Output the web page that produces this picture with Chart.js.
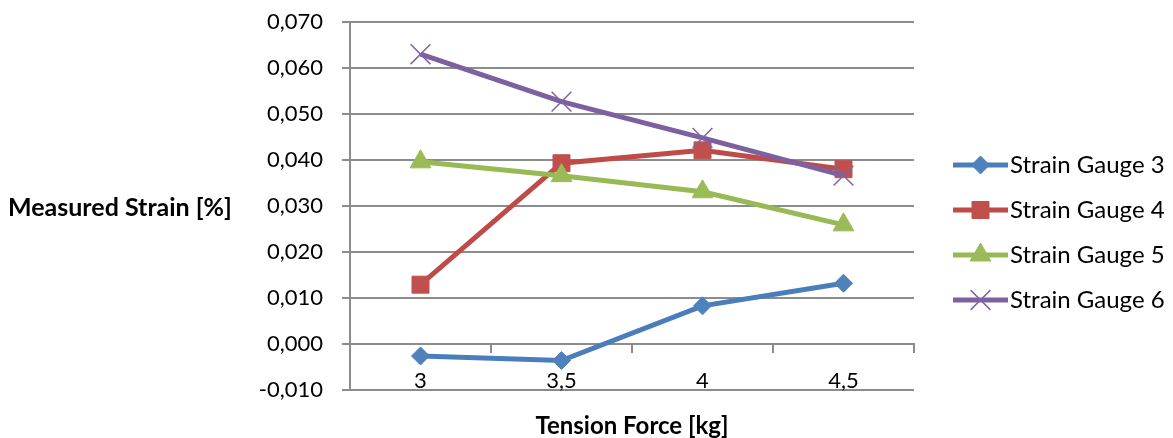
<!DOCTYPE html>
<html>
<head>
<meta charset="utf-8">
<script src="https://cdn.jsdelivr.net/npm/chart.js@4"></script>
<style>
  html, body { margin: 0; padding: 0; background: #fff; }
  #c { display: block; }
</style>
</head>
<body>
<canvas id="c" width="1173" height="438"></canvas>
<script>
// ---- data ----
const categories = ['3', '3,5', '4', '4,5'];
const seriesNames = ['Strain Gauge 3', 'Strain Gauge 4', 'Strain Gauge 5', 'Strain Gauge 6'];
const gauge3 = [-0.0026, -0.0036, 0.0083, 0.0132];
const gauge4 = [0.0129, 0.0393, 0.0421, 0.0380];
const gauge5 = [0.0396, 0.0366, 0.0331, 0.0259];
const gauge6 = [0.0630, 0.0527, 0.0448, 0.0366];
const yMin = -0.01, yMax = 0.07, yStep = 0.01;
const yTitle = 'Measured Strain [%]';
const xTitle = 'Tension Force [kg]';

// ---- styles ----
const FONT = 'Lato';
const gridColor = '#8c8c8c';
const lineColors = ['#4A7EBB', '#BE4B48', '#98B954', '#7D60A0'];
const markColors = ['#4F81BD', '#C0504D', '#9BBB59', '#8064A2'];
const markStyles = ['rectRot', 'rect', 'triangle', 'crossRot'];
const markRadius = [9, 12, 12, 14];
const markBorder = [1, 1, 1, 1.5];
const values = [gauge3, gauge4, gauge5, gauge6];

const W = 1173, H = 438;
const plotLeft = 350, plotRight = 914, plotTop = 22, plotBottom = 390;
const tickFontSize = 22, xTitleFontSize = 24, yTitleFontSize = 25;
const legendFontSize = 24, legendPad = 21, legendBoxW = 63;
const legendFirstY = 165;

// legend icons: line + marker (Excel style)
const x0 = plotRight + legendPad;
const iconCenter = x0 + legendBoxW / 2;
const textX = x0 + legendBoxW + legendFontSize / 2;
const lineEnd = textX - 2, lineStart = lineEnd - 55;
const iconW = Math.ceil(2 * (lineEnd - iconCenter));
const iconLeft = iconCenter - iconW / 2;
function makeIcon(i) {
  const cv = document.createElement('canvas');
  cv.width = iconW; cv.height = 30;
  const c = cv.getContext('2d');
  c.strokeStyle = lineColors[i];
  c.lineWidth = 5;
  c.beginPath(); c.moveTo(lineStart - iconLeft, 15); c.lineTo(lineEnd - iconLeft, 15); c.stroke();
  c.fillStyle = markColors[i];
  c.strokeStyle = markColors[i];
  c.lineWidth = markBorder[i];
  Chart.helpers.drawPoint(c, {pointStyle: markStyles[i], radius: markRadius[i], borderWidth: markBorder[i], rotation: 0},
    (lineStart + lineEnd) / 2 - iconLeft, 15);
  return cv;
}
const icons = seriesNames.map((_, i) => makeIcon(i));

// measure legend text to size right padding so the plot ends at plotRight
const mctx = document.createElement('canvas').getContext('2d');
mctx.font = legendFontSize + 'px ' + FONT;
const tw = Math.max(...seriesNames.map(s => mctx.measureText(s).width));
const padRight = Math.max(0, (W - plotRight) - (legendPad + legendBoxW + legendFontSize / 2 + tw + 10));

function fmt(v) {
  return (Math.round(v * 1000) / 1000).toFixed(3).replace('.', ',');
}

const yTitlePlugin = {
  id: 'yTitle',
  afterDraw(chart) {
    const ctx = chart.ctx;
    ctx.save();
    ctx.font = 'bold ' + yTitleFontSize + 'px ' + FONT;
    ctx.fillStyle = '#000';
    ctx.textAlign = 'left';
    ctx.textBaseline = 'alphabetic';
    ctx.fillText(yTitle, 8, 216);
    ctx.restore();
  }
};

const legendShift = {
  id: 'legendShift',
  afterLayout(chart) {
    const L = chart.legend;
    if (L && L.columnSizes && L.columnSizes.length) {
      const colH = L.columnSizes[0].height;
      const y0 = (L.top + legendPad + L.bottom - colH) / 2;
      const shift = (legendFirstY - legendFontSize / 2) - y0;
      L.top += shift;
      L.bottom += shift;
    }
  }
};

new Chart(document.getElementById('c'), {
  type: 'line',
  data: {
    labels: categories,
    datasets: values.map((vals, i) => ({
      label: seriesNames[i],
      data: vals,
      order: 4 - i,
      borderColor: lineColors[i],
      borderWidth: 5,
      backgroundColor: markColors[i],
      pointStyle: markStyles[i],
      pointRadius: markRadius[i],
      pointHoverRadius: markRadius[i],
      pointBackgroundColor: markColors[i],
      pointBorderColor: markColors[i],
      pointBorderWidth: markBorder[i],
      tension: 0,
      fill: false
    }))
  },
  options: {
    responsive: false,
    animation: false,
    devicePixelRatio: 1,
    layout: { padding: { left: 0, top: plotTop, right: padRight, bottom: H - plotBottom } },
    plugins: {
      tooltip: { enabled: false },
      legend: {
        display: true,
        position: 'right',
        align: 'center',
        maxWidth: W - plotRight,
        labels: {
          usePointStyle: true,
          pointStyleWidth: legendBoxW,
          padding: legendPad,
          color: '#000',
          font: { family: FONT, size: legendFontSize },
          sort: (a, b) => a.datasetIndex - b.datasetIndex,
          generateLabels(chart) {
            const items = Chart.defaults.plugins.legend.labels.generateLabels(chart);
            items.forEach(it => { it.pointStyle = icons[it.datasetIndex]; it.fontColor = '#000'; });
            return items;
          }
        }
      }
    },
    scales: {
      x: {
        type: 'category',
        offset: true,
        position: { y: 0 },
        grid: { offset: true, drawOnChartArea: false, drawTicks: true, tickLength: 8, color: gridColor, lineWidth: 2 },
        border: { display: true, color: gridColor, width: 2 },
        ticks: { padding: 16, color: '#000', font: { family: FONT, size: tickFontSize }, maxRotation: 0, autoSkip: false },
        title: { display: true, text: xTitle, color: '#000', font: { family: FONT, size: xTitleFontSize, weight: 'bold' }, padding: { top: 1, bottom: 0 } }
      },
      y: {
        position: 'left',
        min: yMin,
        max: yMax,
        ticks: { stepSize: yStep, padding: 19, color: '#000', font: { family: FONT, size: tickFontSize }, callback: v => fmt(v) },
        grid: { color: gridColor, lineWidth: 2, tickLength: 8, drawTicks: true },
        border: { display: true, color: gridColor, width: 2 },
        afterFit(scale) { scale.width = plotLeft; scale.paddingTop = 0; scale.paddingBottom = 0; }
      }
    }
  },
  plugins: [yTitlePlugin, legendShift]
});
</script>
</body>
</html>
